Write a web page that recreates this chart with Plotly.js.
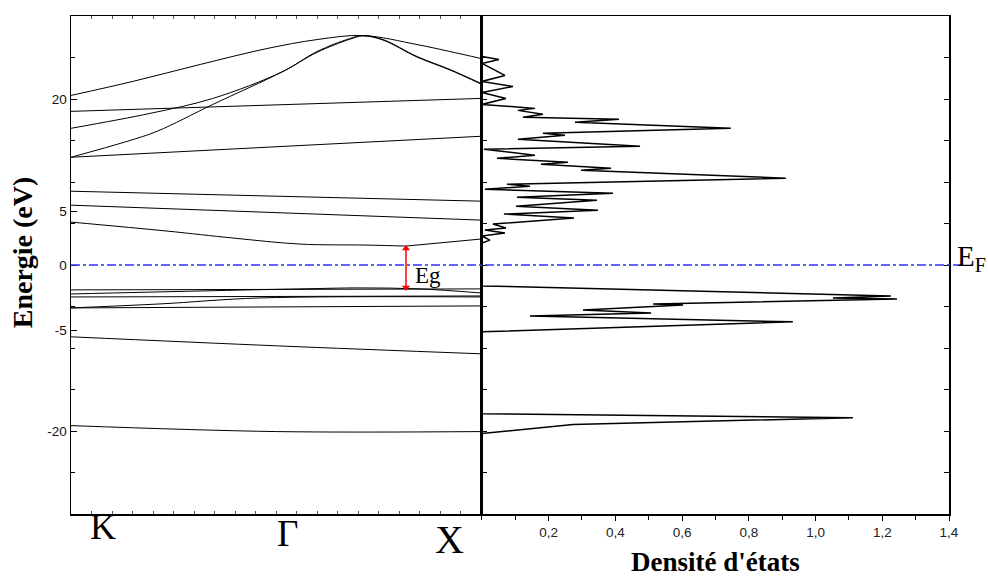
<!DOCTYPE html>
<html>
<head>
<meta charset="utf-8">
<script src="https://cdn.plot.ly/plotly-3.0.1.min.js"></script>
<style>html,body{margin:0;padding:0;background:#fff;}#chart{width:988px;height:578px;}</style>
</head>
<body>
<div id="chart"></div>
<script>
// ---- Band structure (k from K=0 to X=1, energy in eV) ----
const bandA_k = [0, 0.151, 0.315, 0.478, 0.600, 0.712, 0.844, 0.924, 1];
const bandA_E = [20.43, 22.12, 24.16, 26.08, 27.16, 27.65, 26.56, 25.72, 24.88];

const bandB_k = [0, 0.193, 0.346, 0.517, 0.600, 0.680, 0.712, 0.761, 0.844, 0.924, 1];
const bandB_E = [16.47, 18.27, 20.07, 23.32, 25.72, 27.28, 27.65, 27.16, 25.12, 23.56, 21.88];

const bandB2_k = [0, 0.137, 0.210, 0.346, 0.517, 0.600, 0.680, 0.712, 0.761, 0.844, 0.924, 1];
const bandB2_E = [12.98, 14.90, 16.11, 19.35, 23.32, 25.62, 27.20, 27.60, 27.10, 25.05, 23.50, 21.80];

const bandC_k = [0, 1];  const bandC_E = [18.51, 20.07];
const bandD_k = [0, 1];  const bandD_E = [12.98, 15.51];
const bandE_k = [0, 1];  const bandE_E = [8.89, 7.69];
const bandF_k = [0, 1];  const bandF_E = [7.21, 5.41];

const bandG_k = [0, 0.234, 0.395, 0.559, 0.722, 0.817];
const bandG_E = [5.17, 4.09, 3.25, 2.52, 2.40, 2.28];
const bandG2_k = [0.817, 1];
const bandG2_E = [2.28, 3.13];

const bandV1_k = [0, 1];  const bandV1_E = [-3.00, -2.88];
const bandV2_k = [0, 0.315, 0.559, 0.705, 0.851, 1];
const bandV2_E = [-3.49, -3.13, -2.88, -2.76, -2.88, -3.37];
const bandV3_k = [0, 1];  const bandV3_E = [-3.85, -3.73];
const bandV4_k = [0, 0.217, 0.461, 1];
const bandV4_E = [-5.17, -4.69, -3.97, -3.85];
const bandV5_k = [0, 1];  const bandV5_E = [-5.17, -4.93];
const bandV6_k = [0, 0.502, 1];  const bandV6_E = [-8.65, -9.74, -10.70];
const bandV7_k = [0, 0.502, 1];  const bandV7_E = [-19.35, -20.07, -20.07];

// ---- Density of states ----
const dosE = [25.12, 24.76, 24.28, 22.84, 22.12, 21.51, 20.79, 20.07, 19.35, 18.87, 18.63, 18.15, 17.79, 17.55, 17.19,
  16.47, 15.87, 15.63, 15.14, 14.30, 13.94, 13.22, 12.86, 12.38, 12.14, 11.66, 11.42, 10.46, 9.74, 9.50, 9.13,
  8.65, 8.17, 7.81, 7.09, 6.61, 6.13, 5.65, 4.93, 4.45, 4.21, 3.85, 3.49, 3.00, 2.64,
  -2.52, -3.73, -3.97, -4.09, -4.69, -4.81, -5.41, -5.77, -6.13, -6.85, -8.05,
  -17.91, -18.39, -19.23, -20.31, -30];
const dosV = [0, 0.051, 0, 0.069, 0, 0.093, 0, 0.072, 0, 0.159, 0.108, 0.183, 0.123, 0.411, 0.279,
  0.746, 0.183, 0.249, 0.108, 0.474, 0.006, 0.159, 0.045, 0.258, 0.177, 0.387, 0.297, 0.911, 0.075, 0.144, 0.009,
  0.393, 0.105, 0.345, 0.102, 0.348, 0.066, 0.276, 0.033, 0.072, 0.009, 0.069, 0, 0.024, 0,
  0, 1.226, 1.052, 1.244, 0.513, 0.603, 0.303, 0.507, 0.144, 0.932, 0,
  0, 1.112, 0.273, 0, 0];

// ---- Gap marker and labels ----
const gapK = [0.817, 0.817];
const gapE = [-2.70, 1.98];
const kPointLabels = ['K', 'Γ', 'X'];
const kPointPos = [0.078, 0.529, 0.922];
const energyTickVals = [20, 6.5, 0, -7.9, -20];
const energyTickText = ['20', '5', '0', '-5', '-20'];
const dosTickVals = [0.2, 0.4, 0.6, 0.8, 1.0, 1.2, 1.4];
const dosTickText = ['0,2', '0,4', '0,6', '0,8', '1,0', '1,2', '1,4'];

const serif = 'Liberation Serif, Times New Roman, serif';
const sans = 'Liberation Sans, Arial, sans-serif';

const bands = [
  [bandA_k, bandA_E, 'spline'], [bandB_k, bandB_E, 'spline'], [bandB2_k, bandB2_E, 'spline'],
  [bandC_k, bandC_E, 'linear'], [bandD_k, bandD_E, 'linear'], [bandE_k, bandE_E, 'linear'], [bandF_k, bandF_E, 'linear'],
  [bandG_k, bandG_E, 'spline'], [bandG2_k, bandG2_E, 'linear'],
  [bandV1_k, bandV1_E, 'linear'], [bandV2_k, bandV2_E, 'spline'], [bandV3_k, bandV3_E, 'linear'],
  [bandV4_k, bandV4_E, 'spline'], [bandV5_k, bandV5_E, 'linear'], [bandV6_k, bandV6_E, 'spline'], [bandV7_k, bandV7_E, 'spline']
];

const traces = bands.map(b => ({
  x: b[0], y: b[1], type: 'scatter', mode: 'lines', xaxis: 'x', yaxis: 'y',
  line: {color: '#000', width: 1, shape: b[2], smoothing: 1}, hoverinfo: 'skip'
}));
traces.push({
  x: dosV, y: dosE, type: 'scatter', mode: 'lines', xaxis: 'x2', yaxis: 'y2',
  line: {color: '#000', width: 1.5}, hoverinfo: 'skip'
});
// Eg double arrow
traces.push({
  x: gapK, y: gapE, type: 'scatter', mode: 'lines+markers', xaxis: 'x', yaxis: 'y',
  line: {color: '#ff0000', width: 1.5},
  marker: {symbol: ['triangle-down', 'triangle-up'], size: 7, color: '#ff0000'},
  hoverinfo: 'skip'
});
// helper traces for minor-tick axes
traces.push({x: [0], y: [0], xaxis: 'x', yaxis: 'y3', mode: 'markers', marker: {opacity: 0}, hoverinfo: 'skip'});
traces.push({x: [0], y: [0], xaxis: 'x3', yaxis: 'y2', mode: 'markers', marker: {opacity: 0}, hoverinfo: 'skip'});

const annotations = kPointLabels.map((t, i) => ({
  text: t, xref: 'x', x: kPointPos[i], yref: 'paper', y: [-0.026, -0.040, -0.052][i],
  showarrow: false, xanchor: 'center', yanchor: 'middle',
  font: {family: serif, size: [36, 37, 40][i], color: '#000'}
}));
annotations.push({
  text: 'Eg', xref: 'x', yref: 'y', x: gapK[0] + 0.018, y: -1.3, xanchor: 'left', yanchor: 'middle',
  showarrow: false, font: {family: serif, size: 23, color: '#000'}
});
annotations.push({
  text: 'E<sub>F</sub>', xref: 'paper', yref: 'y', x: 1.0065, y: 0.9, xanchor: 'left', yanchor: 'middle',
  showarrow: false, font: {family: serif, size: 29, color: '#000'}
});
annotations.push({
  text: '<b>Energie (eV)</b>', xref: 'paper', yref: 'paper', x: -0.055, y: 0.525, textangle: -90,
  xanchor: 'center', yanchor: 'middle', showarrow: false, font: {family: serif, size: 28, color: '#000'}
});
annotations.push({
  text: '<b>Densité d\'états</b>', xref: 'paper', yref: 'paper', x: 0.7335, y: -0.0955,
  xanchor: 'center', yanchor: 'middle', showarrow: false, font: {family: serif, size: 27, color: '#000'}
});

const layout = {
  width: 988, height: 578,
  margin: {l: 71, r: 39, t: 16, b: 64},
  paper_bgcolor: '#fff', plot_bgcolor: '#fff',
  showlegend: false,
  xaxis: {
    domain: [0, 0.467], range: [0, 1], anchor: 'y',
    showline: true, mirror: 'ticks', linecolor: '#000', linewidth: 1.5,
    ticks: 'inside', dtick: 0.05, tick0: 0, ticklen: 3, tickcolor: '#555', tickwidth: 1,
    showticklabels: false, showgrid: false, zeroline: false
  },
  yaxis: {
    range: [-30, 30], anchor: 'x', domain: [0, 1],
    showline: true, mirror: true, linecolor: '#000', linewidth: 1.5,
    tickmode: 'array', tickvals: energyTickVals, ticktext: energyTickText,
    ticks: 'inside', ticklen: 6, tickcolor: '#000',
    tickfont: {family: sans, size: 13.5, color: '#111'},
    showgrid: false, zeroline: false
  },
  yaxis3: {
    range: [-30, 30], overlaying: 'y', anchor: 'x', side: 'left',
    ticks: 'inside', dtick: 5, tick0: 0, ticklen: 4, tickcolor: '#000',
    showticklabels: false, showgrid: false, zeroline: false, showline: false
  },
  xaxis2: {
    domain: [0.468, 1], range: [0, 1.4], anchor: 'y2',
    showline: true, mirror: true, linecolor: '#000', linewidth: 1.5,
    tickmode: 'array', tickvals: dosTickVals, ticktext: dosTickText,
    ticks: 'outside', ticklen: 5, tickcolor: '#000',
    tickfont: {family: sans, size: 13.5, color: '#222'},
    showgrid: false, zeroline: false
  },
  xaxis3: {
    range: [0, 1.4], overlaying: 'x2', anchor: 'y2', side: 'bottom',
    ticks: 'outside', dtick: 0.1, tick0: 0, ticklen: 5, tickcolor: '#000',
    showticklabels: false, showgrid: false, zeroline: false, showline: false
  },
  yaxis2: {
    range: [-30, 30], anchor: 'x2', domain: [0, 1],
    showline: true, mirror: 'ticks', linecolor: '#000', linewidth: 1.5,
    ticks: 'inside', dtick: 5, tick0: 0, ticklen: 5, tickcolor: '#000',
    showticklabels: false, showgrid: false, zeroline: false
  },
  shapes: [{
    type: 'line', xref: 'paper', yref: 'y', x0: 0, x1: 1.018, y0: 0, y1: 0,
    line: {color: '#2f2fff', width: 1.3, dash: 'dashdot'}, layer: 'above'
  }],
  annotations: annotations
};

Plotly.newPlot('chart', traces, layout, {staticPlot: true, displayModeBar: false});
</script>
</body>
</html>
